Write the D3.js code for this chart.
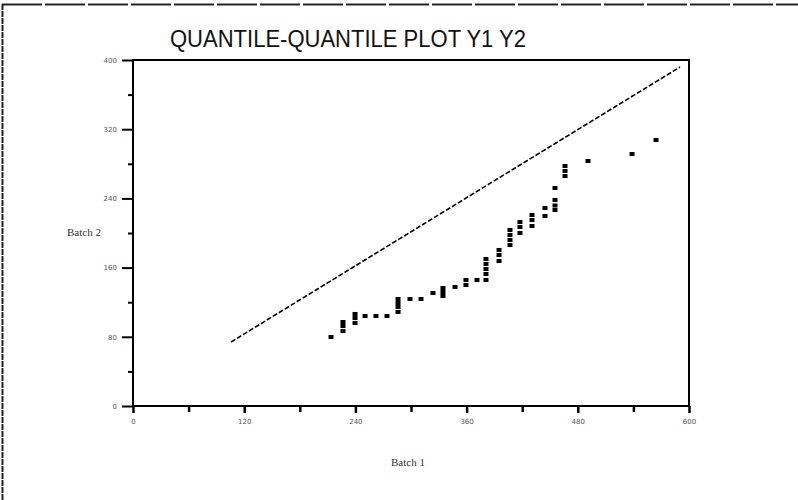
<!DOCTYPE html>
<html><head><meta charset="utf-8">
<script src="https://cdn.jsdelivr.net/npm/d3@7"></script>
<style>body{margin:0;background:#fff}svg{display:block}</style>
</head><body>
<script>
const title = "QUANTILE-QUANTILE PLOT Y1 Y2";
const xLabel = "Batch 1";
const yLabel = "Batch 2";
const xTicks = [0, 120, 240, 360, 480, 600];
const yTicks = [0, 80, 160, 240, 320, 400];
// quantiles of batch 1 (x) and batch 2 (y)
const batch1 = [213.7, 226.6,226.6,226.6, 239.6,239.6,239.6, 250.4, 262.2, 274.1,
  286.0,286.0,286.0,286.0, 298.9, 310.8, 323.7, 334.5,334.5,334.5, 347.5, 359.3,359.3,
  371.2, 380.9,380.9,380.9,380.9,380.9, 395.0,395.0,395.0, 406.8,406.8,406.8,406.8,
  417.6,417.6,417.6, 430.6,430.6,430.6, 444.6,444.6, 455.4,455.4,455.4, 455.4,
  466.2,466.2,466.2, 491.0, 538.5, 564.4];
const batch2 = [79.8, 86.7,92.5,97.1, 96.0,101.7,106.4, 104.0, 104.0, 104.0,
  108.7,114.5,119.1,123.7, 123.7, 123.7, 130.6, 127.2,131.8,136.4, 137.6, 139.9,145.7,
  145.7, 145.7,152.6,158.4,164.2,169.9, 167.6,174.6,180.4, 186.1,191.9,197.7,203.5,
  200.0,206.9,212.7, 208.1,215.0,220.8, 219.7,228.9, 226.6,231.8,238.2, 252.0,
  265.9,271.7,277.5, 283.2, 291.3, 307.5];
const refLineX = [105.8, 590.3];
const refLineY = [74.0, 391.9];

const W = 798, H = 500;
const L = 133, R = 689, T = 60, B = 406;
const svg = d3.select("body").append("svg").attr("width", W).attr("height", H);

// outer frame (left + top)
svg.append("line").attr("x1", 2.5).attr("x2", 2.5).attr("y1", 4).attr("y2", H)
  .attr("stroke", "#222").attr("stroke-width", 2).attr("stroke-dasharray", "6,1");
svg.append("line").attr("x1", 2).attr("x2", W).attr("y1", 4.5).attr("y2", 4.5)
  .attr("stroke", "#222").attr("stroke-width", 2).attr("stroke-dasharray", "40,3");

const x = d3.scaleLinear().domain([xTicks[0], xTicks[xTicks.length - 1]]).range([L, R]);
const y = d3.scaleLinear().domain([yTicks[0], yTicks[yTicks.length - 1]]).range([B, T]);

const xMinor = d3.range(xTicks.length - 1).map(i => (xTicks[i] + xTicks[i + 1]) / 2);
const yMinor = d3.range(yTicks.length - 1).map(i => (yTicks[i] + yTicks[i + 1]) / 2);

// frame
svg.append("rect").attr("x", L).attr("y", T).attr("width", R - L).attr("height", B - T)
  .attr("fill", "none").attr("stroke", "#000").attr("stroke-width", 2);

// x axis
const gx = svg.append("g").attr("transform", `translate(0,${B})`);
gx.call(d3.axisBottom(x).tickValues(xTicks).tickSize(7).tickFormat(d3.format("d")));
gx.select(".domain").remove();
gx.selectAll(".tick line").attr("stroke-width", 2.5);
gx.selectAll(".tick text").attr("font-family", "DejaVu Sans").attr("font-size", 7).attr("fill", "#555").attr("dy", "1.2em");
const gxm = svg.append("g").attr("transform", `translate(0,${B})`);
gxm.call(d3.axisBottom(x).tickValues(xMinor).tickSize(6).tickFormat(""));
gxm.select(".domain").remove();
gxm.selectAll(".tick line").attr("stroke-width", 2.5);

// y axis
const gy = svg.append("g").attr("transform", `translate(${L},0)`);
gy.call(d3.axisLeft(y).tickValues(yTicks).tickSize(11).tickFormat(d3.format("d")));
gy.select(".domain").remove();
gy.selectAll(".tick line").attr("stroke-width", 2);
gy.selectAll(".tick text").attr("font-family", "DejaVu Sans").attr("font-size", 7).attr("fill", "#555").attr("dx", "-0.3em");
const gym = svg.append("g").attr("transform", `translate(${L},0)`);
gym.call(d3.axisLeft(y).tickValues(yMinor).tickSize(5).tickFormat(""));
gym.select(".domain").remove();
gym.selectAll(".tick line").attr("stroke-width", 2);

// reference line
svg.append("line")
  .attr("x1", x(refLineX[0])).attr("y1", y(refLineY[0]))
  .attr("x2", x(refLineX[1])).attr("y2", y(refLineY[1]))
  .attr("stroke", "#000").attr("stroke-width", 1.6).attr("stroke-dasharray", "5,2");

// points
const pts = batch1.map((v, i) => [v, batch2[i]]);
svg.append("g").selectAll("rect").data(pts).enter().append("rect")
  .attr("x", d => x(d[0]) - 2.5).attr("y", d => y(d[1]) - 2)
  .attr("width", 5).attr("height", 4).attr("fill", "#000");

// title
svg.append("text").attr("x", 348).attr("y", 47).attr("text-anchor", "middle")
  .attr("font-family", "Liberation Sans, Arial, sans-serif").attr("font-size", 24)
  .attr("textLength", 356).attr("lengthAdjust", "spacingAndGlyphs")
  .attr("fill", "#111").text(title);

// axis labels
svg.append("text").attr("x", 408).attr("y", 466).attr("text-anchor", "middle")
  .attr("font-family", "Liberation Serif, Times New Roman, serif").attr("font-size", 11)
  .attr("fill", "#333").text(xLabel);
svg.append("text").attr("x", 84).attr("y", 236).attr("text-anchor", "middle")
  .attr("font-family", "Liberation Serif, Times New Roman, serif").attr("font-size", 11)
  .attr("fill", "#333").text(yLabel);
</script>
</body></html>
